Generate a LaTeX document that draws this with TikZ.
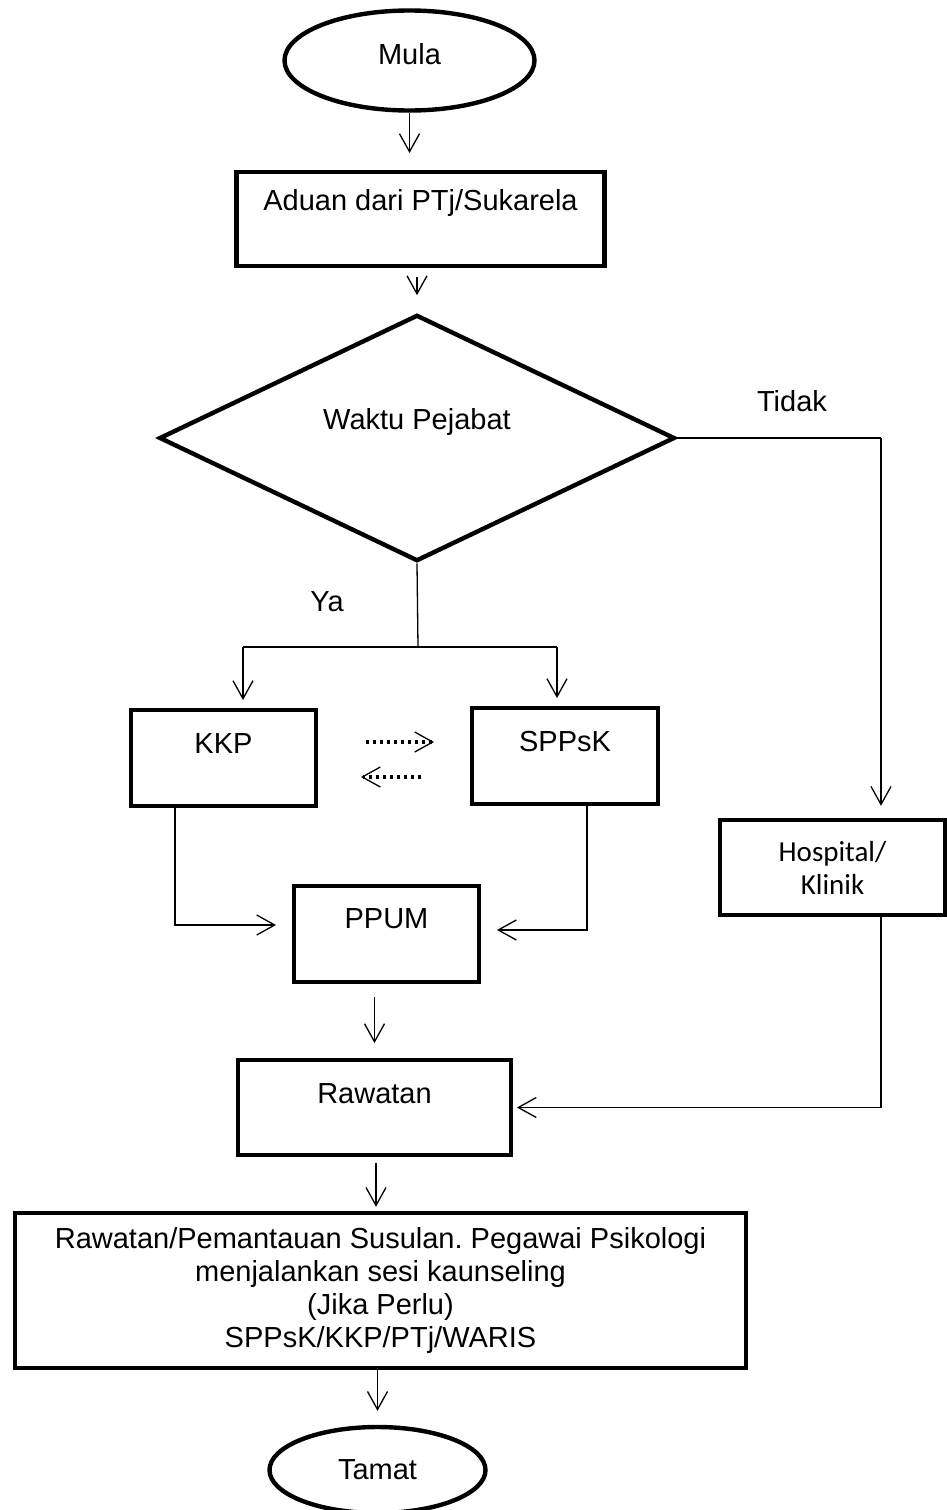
\documentclass[tikz,border=0pt]{standalone}
\usepackage{fontspec}
\setmainfont{Liberation Sans}
\newfontfamily\calibri{Carlito}
\usetikzlibrary{shapes.geometric,arrows.meta}
\frenchspacing

\begin{document}
\begin{tikzpicture}[x=0.5pt,y=-0.5pt,font=\fontsize{14.5}{17.4}\selectfont]
          \tikzset{
            BoxStyle/.style = { rectangle, draw, line width=2.2pt,
              inner sep=0pt },
            EndStyle/.style = { ellipse, draw, line width=2.2pt,
              inner sep=0pt },
            AskStyle/.style = { diamond, draw, line width=2.2pt,
              inner sep=0pt },
            lift/.style = { text height=10.4pt, text depth=#1 },
            arr/.style = { -{Straight Barb[length=9pt,width=10pt]},
              line width=0.65pt },
            dotarr/.style = { line width=1.8pt,
              dash pattern=on 1.5pt off 2pt,
              -{Straight Barb[length=9pt,width=10pt,line width=0.65pt]} },
            line/.style = { line width=0.65pt } }

          \useasboundingbox (0,0) rectangle (947,1510);

          % \node[draw] (Start) at (0,0) {Mula};
          \node[EndStyle, minimum width=125pt, minimum height=50pt, lift=6.5pt] (Mula) at (409.5,60.5) {Mula};
          \node[BoxStyle, minimum width=184pt, minimum height=46.75pt, lift=18.5pt] (Aduan) at (420.5,219) {Aduan dari PTj/Sukarela};
          \node[AskStyle, minimum width=257.8pt, minimum height=122.5pt, lift=19pt] (Waktu) at (417,438) {Waktu Pejabat};
          \node[BoxStyle, minimum width=92.25pt, minimum height=47.75pt, lift=15pt] (KKP) at (223.5,758) {KKP};
          \node[BoxStyle, minimum width=92.75pt, minimum height=47.75pt, lift=15pt] (SPPsK) at (565,756) {SPPsK};
          \node[BoxStyle, minimum width=92.25pt, minimum height=47.75pt, lift=16pt] (PPUM) at (386.5,934) {PPUM};
          \node[BoxStyle, minimum width=112.5pt, minimum height=47.5pt, align=center,
            font=\calibri\fontsize{14.5}{16.5}\selectfont] (Hospital) at (832.5,867.5) {Hospital/\\Klinik};
          \node[BoxStyle, minimum width=136.25pt, minimum height=47.25pt, lift=14.5pt] (Rawatan) at (374.5,1107.5) {Rawatan};
          \node[BoxStyle, minimum width=365.5pt, minimum height=77.5pt, align=center,
            font=\fontsize{14.5}{16.5}\selectfont] (Susulan) at (380.5,1290.5)
            {Rawatan/Pemantauan Susulan. Pegawai Psikologi\\menjalankan sesi kaunseling\\(Jika Perlu)\\SPPsK/KKP/PTj/WARIS};
          \node[EndStyle, minimum width=108pt, minimum height=43pt] (Tamat) at (377.5,1470) {Tamat};

          \node[inner sep=0pt] (Tidak) at (792,401) {Tidak};
          \node[inner sep=0pt] (Ya) at (327,602) {Ya};

          \coordinate (Split) at (418,647);
          \coordinate (SplitL) at (243,647);
          \coordinate (SplitR) at (557,647);
          \coordinate (Bend) at (881,438);

          \draw[arr, shorten >=8.5pt] (Mula.south) -- (Mula.south |- Aduan.north);
          \draw[arr, shorten <=4.5pt, shorten >=8.75pt] (Waktu.north |- Aduan.south) -- (Waktu.north);

          % Ya
          \draw[line] (Waktu.south) -- (Split);
          \draw[line] (SplitL) -- (SplitR);
          \draw[arr, shorten >=4pt] (SplitL) -- (SplitL |- KKP.north);
          \draw[arr, shorten >=4pt] (SplitR) -- (SplitR |- SPPsK.north);

          % Tidak
          \draw[line] (Waktu.east) -- (Bend);
          \draw[arr, shorten >=6pt] (Bend) -- (Bend |- Hospital.north);

          \draw[dotarr, shorten <=24pt, shorten >=18pt] ([yshift=8pt]KKP.east) -- ([yshift=8pt]KKP.east -| SPPsK.west);
          \draw[dotarr, shorten <=24.5pt, shorten >=21.5pt] ([yshift=-9.5pt]KKP.east -| SPPsK.west) -- ([yshift=-9.5pt]KKP.east);

          \draw[arr, shorten >=8pt] ([xshift=-24.25pt]KKP.south) |- ([yshift=4.5pt]PPUM.west);
          \draw[arr, shorten >=8pt] ([xshift=11pt]SPPsK.south) |- ([yshift=2pt]PPUM.east);
          \draw[arr, shorten <=6.5pt, shorten >=7.5pt] (Rawatan.north |- PPUM.south) -- (Rawatan.north);
          \draw[arr, shorten >=2pt] (Bend |- Hospital.south) |- (Rawatan.east);
          \draw[arr, shorten <=3pt, shorten >=2pt] ([xshift=0.75pt]Rawatan.south) -- ([xshift=0.75pt]Rawatan.south |- Susulan.north);
          \draw[arr, shorten >=7pt] (Tamat.north |- Susulan.south) -- (Tamat.north);
        \end{tikzpicture}
\end{document}
